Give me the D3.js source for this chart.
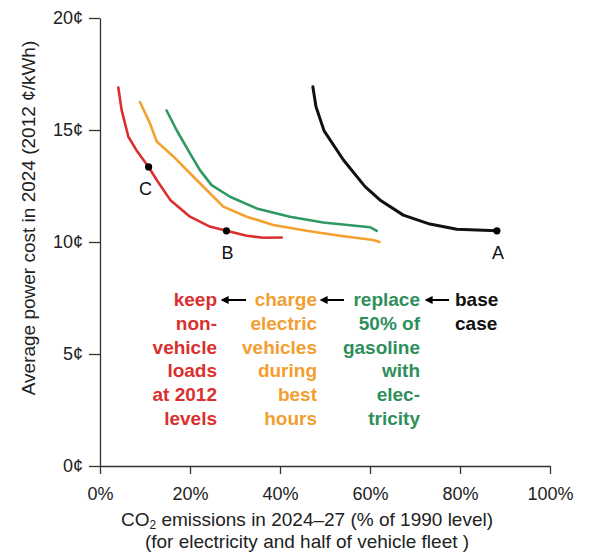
<!DOCTYPE html>
<html lang="en">
<head>
  <meta charset="UTF-8" />
  <title>Power cost vs CO2 emissions</title>
  <script src="https://d3js.org/d3.v7.min.js"></script>
  <style>
    body { margin: 0; background: #fff; }
    svg { font-family: "Liberation Sans", Arial, sans-serif; }
    .line { fill: none; stroke-linejoin: round; stroke-linecap: round; }
    .axis path, .axis line { stroke: #333; stroke-width: 1.3px; }
    .axis text { font-size: 18px; fill: #222; }
    .note { font-size: 19px; font-weight: bold; }
  </style>
</head>
<body>
  <svg width="600" height="558"></svg>

  <script>
    // emissions (% of 1990 level), power cost (cents/kWh)
    const baseCase = [
      [47.3, 16.93], [48.0, 16.04], [49.8, 14.96], [54.1, 13.66], [58.9, 12.47],
      [62.2, 11.88], [67.4, 11.2], [73.3, 10.8], [79.3, 10.57], [88.2, 10.5]
    ];
    const replaceGas = [
      [14.8, 15.87], [17.0, 15.0], [20.0, 13.96], [22.2, 13.21], [24.8, 12.54],
      [28.9, 12.02], [34.8, 11.5], [42.2, 11.13], [49.6, 10.87], [60.0, 10.66], [61.5, 10.5]
    ];
    const chargeBest = [
      [8.9, 16.24], [11.1, 15.3], [12.6, 14.49], [16.3, 13.82], [20.0, 13.07],
      [23.7, 12.32], [27.4, 11.58], [32.6, 11.13], [38.5, 10.76], [45.9, 10.5],
      [53.3, 10.28], [60.7, 10.09], [62.1, 10.0]
    ];
    const keepLoads = [
      [4.07, 16.9], [4.8, 15.9], [6.3, 14.7], [8.1, 14.1], [10.8, 13.35],
      [12.6, 12.77], [15.6, 11.88], [20.0, 11.13], [24.4, 10.69], [28.1, 10.5],
      [32.6, 10.28], [36.3, 10.19], [40.4, 10.2]
    ];
    const pointNames = ["A", "B", "C"];
    const pointValues = [[88.2, 10.5], [28.1, 10.5], [10.8, 13.35]];

    const xTicks = [0, 20, 40, 60, 80, 100];
    const yTicks = [0, 5, 10, 15, 20];

    const noteRed = ["keep", "non-", "vehicle", "loads", "at 2012", "levels"];
    const noteOrange = ["charge", "electric", "vehicles", "during", "best", "hours"];
    const noteGreen = ["replace", "50% of", "gasoline", "with", "elec-", "tricity"];
    const noteBlack = ["base", "case"];

    const svg = d3.select("svg");

    const x = d3.scaleLinear().domain([0, 100]).range([100, 550]);
    const y = d3.scaleLinear().domain([0, 20]).range([466, 18]);

    svg.append("g")
      .attr("class", "axis")
      .attr("transform", `translate(0,${y(0)})`)
      .call(d3.axisBottom(x).tickValues(xTicks).tickFormat(d => d + "%")
        .tickSizeInner(8).tickSizeOuter(0).tickPadding(13));

    svg.append("g")
      .attr("class", "axis")
      .attr("transform", `translate(${x(0)},0)`)
      .call(d3.axisLeft(y).tickValues(yTicks).tickFormat(d => d + "¢")
        .tickSizeInner(11).tickSizeOuter(0).tickPadding(6));

    // axis titles
    svg.append("text")
      .attr("transform", "translate(35,218) rotate(-90)")
      .attr("text-anchor", "middle")
      .style("font-size", "19px")
      .attr("fill", "#222")
      .text("Average power cost  in 2024 (2012 ¢/kWh)");

    const xt = svg.append("text")
      .attr("x", 307)
      .attr("y", 526)
      .attr("text-anchor", "middle")
      .style("font-size", "19px")
      .attr("fill", "#222");
    xt.append("tspan").text("CO");
    xt.append("tspan").attr("dy", 3).style("font-size", "12px").text("2");
    xt.append("tspan").attr("dy", -3).text(" emissions in 2024–27 (% of 1990 level)");

    svg.append("text")
      .attr("x", 307)
      .attr("y", 548)
      .attr("text-anchor", "middle")
      .style("font-size", "19px")
      .attr("fill", "#222")
      .text("(for electricity and half of vehicle fleet )");

    const line = d3.line()
      .x(d => x(d[0]))
      .y(d => y(d[1]));

    const series = [
      { data: baseCase, color: "#111", width: 3 },
      { data: replaceGas, color: "#2e9a62", width: 2.6 },
      { data: chargeBest, color: "#f5a130", width: 2.6 },
      { data: keepLoads, color: "#d9302f", width: 2.6 }
    ];

    svg.selectAll("path.line")
      .data(series)
      .join("path")
      .attr("class", "line")
      .attr("stroke", d => d.color)
      .attr("stroke-width", d => d.width)
      .attr("d", d => line(d.data));

    svg.selectAll("circle.pt")
      .data(pointValues)
      .join("circle")
      .attr("class", "pt")
      .attr("cx", d => x(d[0]))
      .attr("cy", d => y(d[1]))
      .attr("r", 3.6)
      .attr("fill", "#000");

    svg.selectAll("text.ptlabel")
      .data(pointValues)
      .join("text")
      .attr("class", "ptlabel")
      .attr("x", (d, i) => x(d[0]) + (i === 2 ? -3 : 1))
      .attr("y", d => y(d[1]) + 28)
      .attr("text-anchor", "middle")
      .style("font-size", "18px")
      .attr("fill", "#111")
      .text((d, i) => pointNames[i]);

    // scenario notes
    const notes = [
      { lines: noteRed, color: "#d9302f", x: 217, anchor: "end" },
      { lines: noteOrange, color: "#f29e30", x: 317, anchor: "end" },
      { lines: noteGreen, color: "#2e8f5c", x: 420, anchor: "end" },
      { lines: noteBlack, color: "#111", x: 455, anchor: "start" }
    ];
    notes.forEach(n => {
      svg.append("g").selectAll("text")
        .data(n.lines)
        .join("text")
        .attr("class", "note")
        .attr("x", n.x)
        .attr("y", (d, i) => 306 + i * 23.8)
        .attr("text-anchor", n.anchor)
        .attr("fill", n.color)
        .text(d => d);
    });

    svg.append("defs").append("marker")
      .attr("id", "head")
      .attr("viewBox", "0 0 10 10")
      .attr("refX", 2).attr("refY", 5)
      .attr("markerWidth", 4).attr("markerHeight", 4)
      .attr("orient", "auto-start-reverse")
      .append("path")
      .attr("d", "M0,0L10,5L0,10z")
      .attr("fill", "#000");

    const arrows = [[223, 246], [322, 344], [427, 449]];
    svg.selectAll("line.arrow")
      .data(arrows)
      .join("line")
      .attr("class", "arrow")
      .attr("x1", d => d[1]).attr("x2", d => d[0] + 4)
      .attr("y1", 300).attr("y2", 300)
      .attr("stroke", "#000")
      .attr("stroke-width", 2)
      .attr("marker-end", "url(#head)");
  </script>
</body>
</html>
